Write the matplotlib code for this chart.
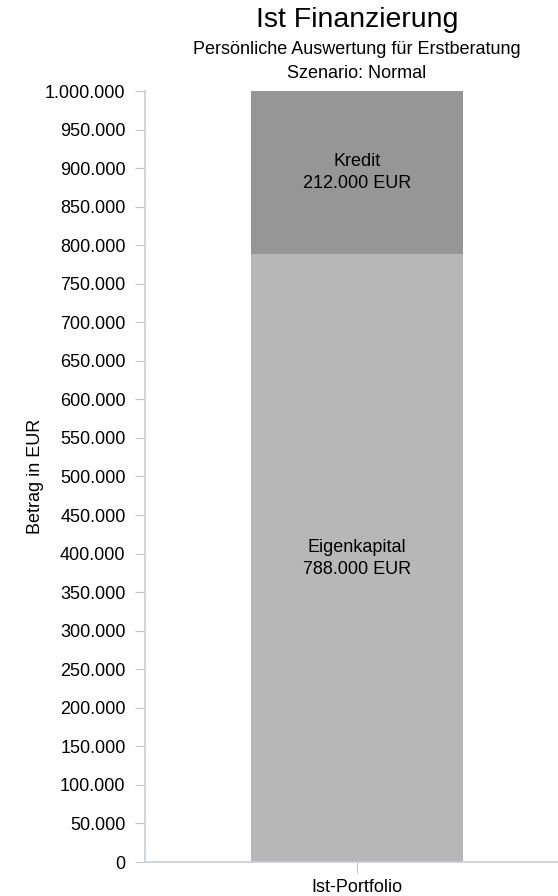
import matplotlib
matplotlib.use("Agg")
import matplotlib.pyplot as plt
from matplotlib.ticker import FuncFormatter

plt.rcParams['font.family'] = ['Liberation Sans', 'DejaVu Sans']

categories = ["Ist-Portfolio"]
eigenkapital = [788000]
kredit = [212000]
segment_names = ["Eigenkapital", "Kredit"]
colors = ["#b7b7b7", "#969696"]

fig = plt.figure(figsize=(5.58, 8.96), dpi=100)
ax = fig.add_axes([145 / 558, 34 / 896, 413 / 558, 771 / 896])

x = range(len(categories))
ax.bar(x, eigenkapital, width=0.50, color=colors[0], zorder=2)
ax.bar(x, kredit, bottom=eigenkapital, width=0.50, color=colors[1], zorder=2)

for i in x:
    ax.text(i, eigenkapital[i] / 2, f"{segment_names[0]}\n{eigenkapital[i]:,.0f} EUR".replace(",", "."),
            ha="center", va="center", fontsize=13, linespacing=1.35)
    ax.text(i, eigenkapital[i] + kredit[i] / 2, f"{segment_names[1]}\n{kredit[i]:,.0f} EUR".replace(",", "."),
            ha="center", va="center", fontsize=13, linespacing=1.35)

ax.set_xlim(-0.5, 0.474)
ax.set_ylim(0, 1000000)
ax.set_yticks(range(0, 1000001, 50000))
ax.yaxis.set_major_formatter(FuncFormatter(lambda v, p: f"{v:,.0f}".replace(",", ".")))
ax.set_xticks(list(x))
ax.set_xticklabels(categories)

for s in ["top", "right"]:
    ax.spines[s].set_visible(False)
for s in ["left", "bottom"]:
    ax.spines[s].set_color("#c9ced6")
    ax.spines[s].set_linewidth(1.2)

ax.tick_params(axis="y", length=7, width=0.8, color="#c4c4c4", labelsize=13, pad=7)
ax.tick_params(axis="x", length=8, width=0.8, color="#c4c4c4", labelsize=13, pad=4)
for t in ax.yaxis.get_ticklines() + ax.xaxis.get_ticklines():
    t.set_linestyle((0, (1, 1)))

ax.set_ylabel("Betrag in EUR", fontsize=13, labelpad=0.5)

fig.text(357 / 558, 1 - 20 / 896, "Ist Finanzierung", ha="center", va="center", fontsize=20.5)
fig.text(357 / 558, 1 - 50 / 896, "Persönliche Auswertung für Erstberatung", ha="center", va="center", fontsize=13)
fig.text(357 / 558, 1 - 74 / 896, "Szenario: Normal", ha="center", va="center", fontsize=13)

fig.savefig("out.png", dpi=100)
